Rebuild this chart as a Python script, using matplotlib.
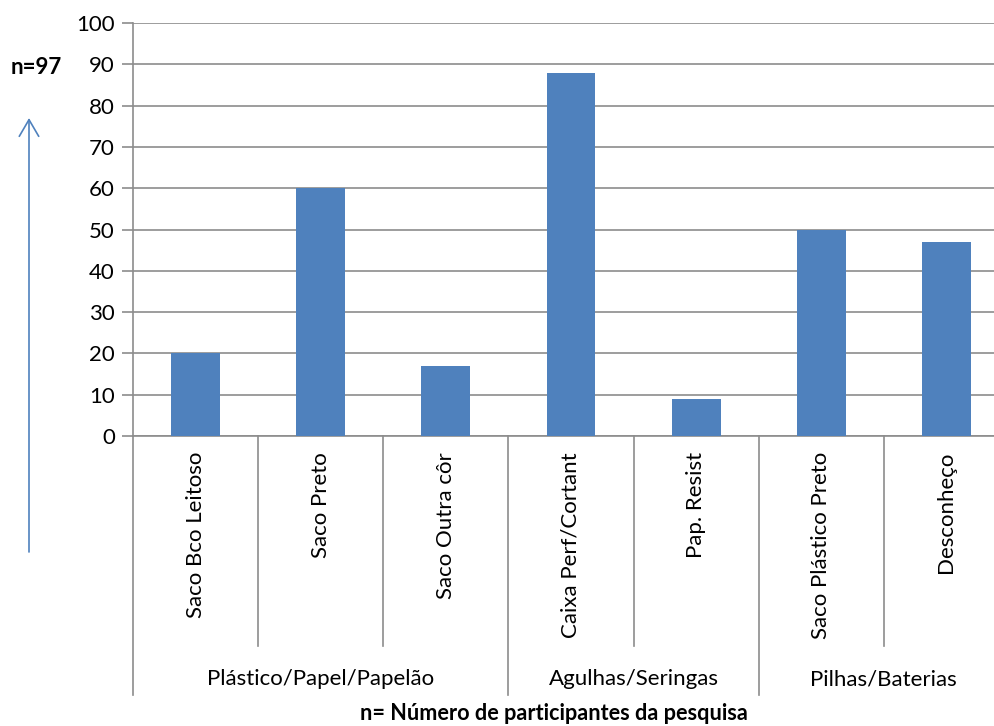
import matplotlib.pyplot as plt
from matplotlib.lines import Line2D
from matplotlib.patches import FancyArrowPatch

plt.rcParams["font.family"] = ["Lato", "DejaVu Sans"]

categories = ["Saco Bco Leitoso", "Saco Preto", "Saco Outra côr",
              "Caixa Perf/Cortant", "Pap. Resist",
              "Saco Plástico Preto", "Desconheço"]
values = [20, 60, 17, 88, 9, 50, 47]
groups = ["Plástico/Papel/Papelão", "Agulhas/Seringas", "Pilhas/Baterias"]
group_sizes = [3, 2, 2]
y_ticks = list(range(0, 101, 10))

BAR = "#4F81BD"
GRID = "#8C8C8C"
W, H = 995, 726
FS = 16

fig = plt.figure(figsize=(W / 100, H / 100), dpi=100)
# plot area in pixels: left 133, top 23, bottom 436, right runs past the edge
left, top, bottom, right = 133, 23, 436, 1009
ax = fig.add_axes([left / W, 1 - bottom / H, (right - left) / W, (bottom - top) / H])


def frac(py):
    # pixel row below the axis -> axes fraction
    return -(py - bottom) / (bottom - top)


x = list(range(len(categories)))
ax.bar(x, values, width=0.39, color=BAR, zorder=3)
ax.set_xlim(-0.5, len(categories) - 0.5)
ax.set_ylim(0, 100)
ax.set_yticks(y_ticks)
ax.yaxis.grid(True, color=GRID, linewidth=1.2)
ax.set_axisbelow(True)
ax.tick_params(axis="y", length=8, width=1.2, color=GRID, labelsize=FS, pad=5)
ax.set_xticks([])
for s in ["top", "right"]:
    ax.spines[s].set_visible(False)
for s in ["left", "bottom"]:
    ax.spines[s].set_color(GRID)
    ax.spines[s].set_linewidth(1.2)

tr = ax.get_xaxis_transform()
inner_bottom = frac(646)
outer_bottom = frac(695)

# separators between categories and between groups
bounds = [-0.5]
for n in group_sizes:
    bounds.append(bounds[-1] + n)
for i in range(len(categories) + 1):
    xb = i - 0.5
    low = outer_bottom if xb in bounds else inner_bottom
    ax.add_line(Line2D([xb, xb], [0, low], transform=tr, color=GRID,
                       linewidth=1.2, clip_on=False))

for xi, name in zip(x, categories):
    ax.text(xi, frac(452), name, transform=tr, rotation=90, ha="center",
            va="top", fontsize=FS)

for i, g in enumerate(groups):
    xc = (bounds[i] + bounds[i + 1]) / 2
    ax.text(xc, frac(679), g, transform=tr, ha="center", va="center",
            fontsize=FS)

fig.text(554 / W, 1 - 713 / H, "n= Número de participantes da pesquisa",
         ha="center", va="center", fontsize=15.6, fontweight="bold")
fig.text(36 / W, 1 - 68 / H, "n=97", ha="center", va="center",
         fontsize=FS, fontweight="bold")
fig.add_artist(FancyArrowPatch(
    (29 / W, 1 - 552 / H), (29 / W, 1 - 118 / H), transform=fig.transFigure,
    arrowstyle="->,head_length=12,head_width=7", color=BAR, linewidth=1.2,
    mutation_scale=1, shrinkA=0, shrinkB=0))

fig.savefig("out.png", dpi=100)
